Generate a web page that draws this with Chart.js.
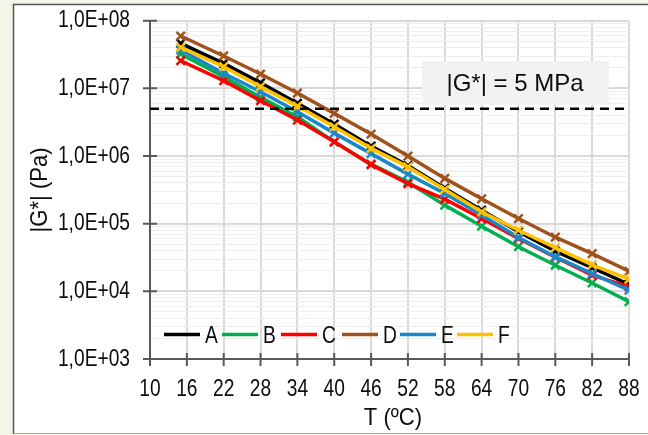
<!DOCTYPE html>
<html>
<head>
<meta charset="utf-8">
<script src="https://cdn.jsdelivr.net/npm/chart.js@4.4.1/dist/chart.umd.min.js"></script>
<style>
  html, body { margin: 0; padding: 0; background: #f4f4e7; }
  #wrap { position: relative; width: 648px; height: 435px; }
</style>
</head>
<body>
<div id="wrap"><canvas id="chart" width="648" height="435"></canvas></div>
<script>
// temperatures (ºC) and |G*| (Pa)
const temps = [15, 22, 28, 34, 40, 46, 52, 58, 64, 70, 76, 82, 88];
const xTicks = [10, 16, 22, 28, 34, 40, 46, 52, 58, 64, 70, 76, 82, 88];
const yDecades = [3, 4, 5, 6, 7, 8];

const seriesNames = ["A", "B", "C", "D", "E", "F"];
const seriesColors = ["#000000", "#00b050", "#ff0000", "#a0521c", "#1a88c9", "#ffc000"];

const valuesA = [4.63e7, 2.34e7, 1.21e7, 6.0e6, 2.96e6, 1.40e6, 7.21e5, 3.35e5, 1.58e5, 7.62e4, 3.92e4, 2.23e4, 1.27e4];
const valuesB = [3.22e7, 1.49e7, 7.36e6, 3.80e6, 1.62e6, 7.59e5, 4.11e5, 1.88e5, 9.19e4, 4.57e4, 2.43e4, 1.33e4, 7.02e3];
const valuesC = [2.56e7, 1.30e7, 6.56e6, 3.40e6, 1.62e6, 7.46e5, 3.90e5, 2.30e5, 1.19e5, 6.04e4, 3.19e4, 1.73e4, 1.17e4];
const valuesD = [5.94e7, 3.01e7, 1.63e7, 8.52e6, 4.27e6, 2.11e6, 9.97e5, 4.67e5, 2.33e5, 1.19e5, 6.31e4, 3.60e4, 1.98e4];
const valuesE = [3.69e7, 1.67e7, 8.91e6, 4.51e6, 2.18e6, 1.085e6, 5.40e5, 2.80e5, 1.34e5, 6.25e4, 3.25e4, 1.83e4, 1.04e4];
const valuesF = [4.04e7, 2.09e7, 1.06e7, 5.47e6, 2.70e6, 1.30e6, 6.92e5, 3.21e5, 1.50e5, 8.01e4, 4.42e4, 2.46e4, 1.51e4];
const seriesValues = [valuesA, valuesB, valuesC, valuesD, valuesE, valuesF];

const limitValue = 5e6;
const limitLabel = "|G*| = 5 MPa";
const xTitle = "T (ºC)";
const yTitle = "|G*| (Pa)";

const axisGray = "#595959";
const textColor = "#0d0d0d";

function isDecade(v) {
  const l = Math.log10(v);
  return Math.abs(l - Math.round(l)) < 1e-9;
}

function sciLabel(v) {
  const e = Math.round(Math.log10(v));
  return "1,0E+" + String(e).padStart(2, "0");
}

// Arial-like text squeezed sideways to mimic the narrow face of the original
function drawText(ctx, text, x, y, size, sx, align, rotate) {
  ctx.save();
  ctx.translate(x, y);
  if (rotate) ctx.rotate(-Math.PI / 2);
  ctx.scale(sx, 1);
  ctx.font = size + 'px "Liberation Sans", Arial, sans-serif';
  ctx.fillStyle = textColor;
  ctx.textAlign = align;
  ctx.textBaseline = "middle";
  ctx.fillText(text, 0, 0);
  ctx.restore();
}

const datasets = seriesNames.map((name, i) => ({
  label: name,
  data: temps.map((t, j) => ({ x: t, y: seriesValues[i][j] })),
  borderColor: seriesColors[i],
  backgroundColor: seriesColors[i],
  borderWidth: 3.5,
  showLine: true,
  pointStyle: "crossRot",
  pointRadius: 6,
  pointBorderWidth: 2.5,
  order: 6 - i,
}));

datasets.push({
  label: "limit",
  data: [{ x: xTicks[0], y: limitValue }, { x: xTicks[xTicks.length - 1], y: limitValue }],
  borderColor: "#000000",
  borderWidth: 2.5,
  borderDash: [9, 6],
  showLine: true,
  pointRadius: 0,
  order: 0,
});

const framePlugin = {
  id: "frame",
  beforeDraw(chart) {
    const ctx = chart.ctx;
    ctx.save();
    ctx.fillStyle = "#f4f4e7";
    ctx.fillRect(0, 0, chart.width, chart.height);
    ctx.fillStyle = "#ffffff";
    ctx.fillRect(13, 4, chart.width - 13, 430);
    ctx.strokeStyle = "#555555";
    ctx.lineWidth = 1.5;
    ctx.beginPath();
    ctx.moveTo(chart.width + 2, 4.5);
    ctx.lineTo(13.5, 4.5);
    ctx.lineTo(13.5, 434);
    ctx.stroke();
    ctx.strokeStyle = "#a6a6a6";
    ctx.lineWidth = 1;
    ctx.beginPath();
    ctx.moveTo(13.5, 433.5);
    ctx.lineTo(chart.width, 433.5);
    ctx.stroke();
    ctx.restore();
  },
  beforeDatasetsDraw(chart) {
    const ctx = chart.ctx;
    ctx.save();
    ctx.fillStyle = "#f2f2f2";
    ctx.fillRect(422, 61, 187, 44);
    ctx.restore();
    drawText(ctx, limitLabel, 515, 84, 24, 1, "center", false);
  },
  afterDatasetsDraw(chart) {
    const ctx = chart.ctx;
    const starts = [164, 222, 281, 342, 400, 457];
    seriesNames.forEach((name, i) => {
      const x0 = starts[i];
      ctx.save();
      ctx.strokeStyle = seriesColors[i];
      ctx.lineWidth = 3.5;
      ctx.beginPath();
      ctx.moveTo(x0, 334.5);
      ctx.lineTo(x0 + 36, 334.5);
      ctx.stroke();
      ctx.restore();
      drawText(ctx, name, x0 + 41, 336, 24, 0.8, "left", false);
    });
  },
  afterDraw(chart) {
    const ctx = chart.ctx;
    const xs = chart.scales.x;
    const ys = chart.scales.y;
    const area = chart.chartArea;
    ctx.save();
    ctx.strokeStyle = axisGray;
    ctx.lineWidth = 2;
    ctx.beginPath();
    yDecades.forEach((e) => {
      const y = ys.getPixelForValue(Math.pow(10, e));
      ctx.moveTo(area.left - 7, y);
      ctx.lineTo(area.left + 7, y);
    });
    xTicks.forEach((t) => {
      const x = xs.getPixelForValue(t);
      ctx.moveTo(x, area.bottom - 6);
      ctx.lineTo(x, area.bottom + 7);
    });
    ctx.stroke();
    ctx.restore();

    yDecades.forEach((e) => {
      const v = Math.pow(10, e);
      drawText(ctx, sciLabel(v), area.left - 20, ys.getPixelForValue(v), 24, 0.8, "right", false);
    });
    xTicks.forEach((t) => {
      drawText(ctx, String(t), xs.getPixelForValue(t), 389, 24, 0.8, "center", false);
    });
    drawText(ctx, xTitle, 393, 418, 24, 0.92, "center", false);
    drawText(ctx, yTitle, 40, (area.top + area.bottom) / 2, 24, 0.92, "center", true);
  },
};

new Chart(document.getElementById("chart"), {
  type: "scatter",
  data: { datasets },
  options: {
    responsive: false,
    animation: false,
    layout: { padding: { left: 13, top: 20.7, right: 19, bottom: 0 } },
    plugins: { legend: { display: false }, tooltip: { enabled: false } },
    scales: {
      x: {
        type: "linear",
        min: xTicks[0],
        max: xTicks[xTicks.length - 1],
        afterBuildTicks: (s) => { s.ticks = xTicks.map((v) => ({ value: v })); },
        afterFit: (s) => { s.height = 76; },
        grid: { color: "#d9d9d9", lineWidth: 2, drawTicks: false },
        border: { color: axisGray, width: 2 },
        ticks: { display: false },
      },
      y: {
        type: "logarithmic",
        min: 1e3,
        max: 1e8,
        afterBuildTicks: (s) => {
          const ticks = [];
          yDecades.forEach((e) => {
            ticks.push({ value: Math.pow(10, e) });
            if (e < 8) for (let k = 2; k <= 9; k++) ticks.push({ value: k * Math.pow(10, e) });
          });
          s.ticks = ticks;
        },
        afterFit: (s) => { s.width = 137; },
        grid: {
          drawTicks: false,
          color: (c) => (c.tick && isDecade(c.tick.value) ? "#d9d9d9" : "#eeeeee"),
          lineWidth: (c) => (c.tick && isDecade(c.tick.value) ? 2 : 1),
        },
        border: { color: axisGray, width: 2 },
        ticks: { display: false },
      },
    },
  },
  plugins: [framePlugin],
});
</script>
</body>
</html>
